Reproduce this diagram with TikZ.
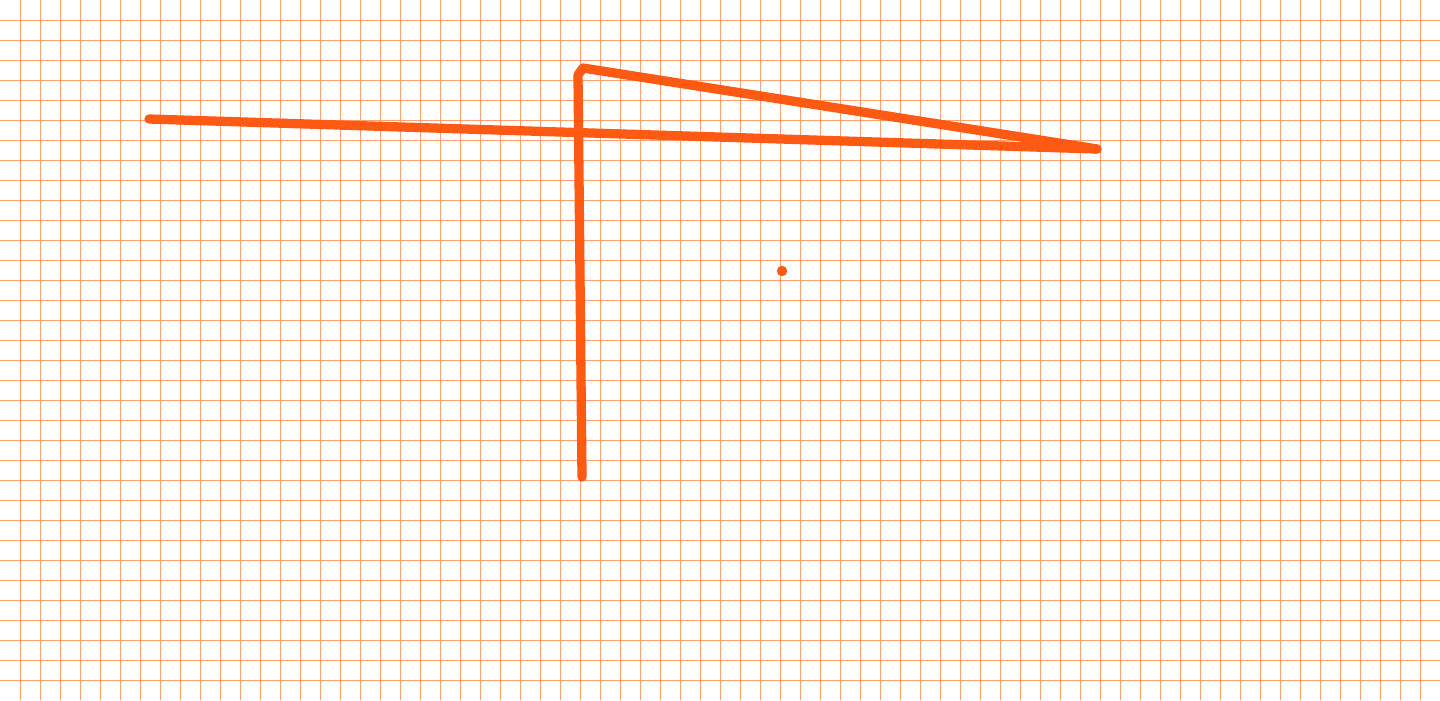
\documentclass[tikz,border=0pt]{standalone}
\usepackage{tikz}
\usetikzlibrary{calc}

\definecolor{penorange}{RGB}{255,90,20}
\definecolor{gridorange}{RGB}{255,160,115}

\begin{document}
\begin{tikzpicture}[
            x=0.025cm, y=-0.025cm,
            gridline/.style={draw=gridorange, line width=0.7pt},
            pen/.style={draw=penorange, line width=6.6pt, line cap=round, line join=round},
            blob/.style={fill=penorange}
        ]
            % --- Paper ---
            \useasboundingbox (0,0) rectangle (1440,700);
            \fill[white] (0,0) rectangle (1440,700);
            \foreach \gx in {20,40,...,1420}
              \draw[gridline] (\gx,0) -- (\gx,700);
            \foreach \gy in {20,40,...,680}
              \draw[gridline] (0,\gy) -- (1440,\gy);

            % --- Points ---
            \coordinate (left) at (149,119);
            \coordinate (tip) at (1097,149);
            \coordinate (foot) at (582,477);
            \coordinate (knee) at (578,75);
            \coordinate (top) at (583,68);
            \coordinate (dot) at (782,271);

            % --- Strokes ---
            \draw[pen] (left) -- (tip);
            \draw[pen] (foot) -- (knee) -- (top) -- (tip);
            \fill[blob] (dot) circle (5.2);

        \end{tikzpicture}
\end{document}
